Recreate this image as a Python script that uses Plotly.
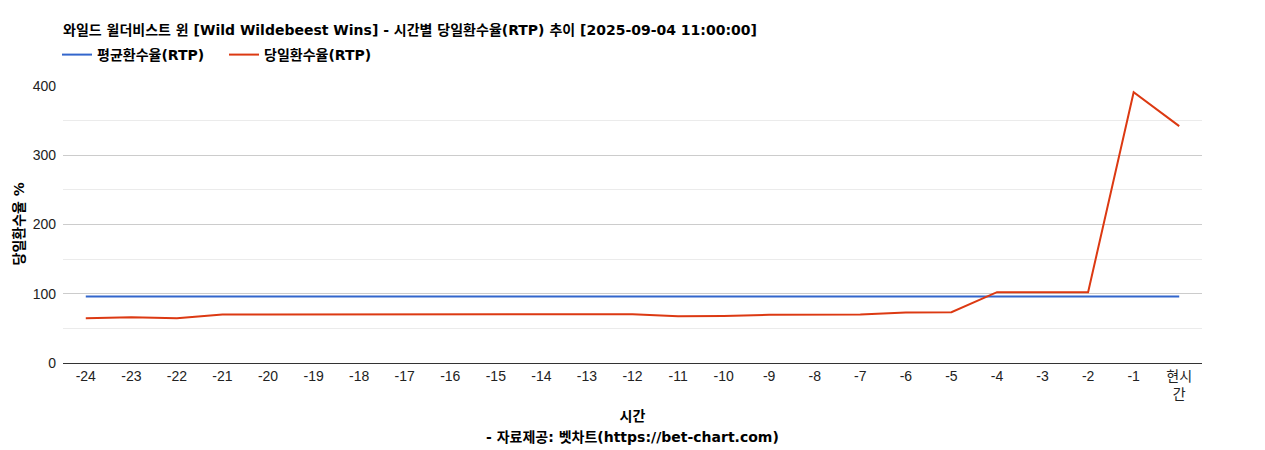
import plotly.graph_objects as go

categories = [str(i) for i in range(-24, 0)] + ["현시<br>간"]
avg_rtp = [96.2] * 25
daily_rtp = [64.7, 66.0, 64.7, 69.9, 69.9, 69.9, 69.9, 69.9, 69.9, 69.9, 70.0, 70.6, 70.4,
             67.6, 68.0, 69.5, 69.7, 70.0, 72.8, 73.3, 102.3, 102.3, 102.3, 391.0, 342.0]
y_ticks = [0, 100, 200, 300, 400]

FONT = "Arial, 'Liberation Sans', 'Noto Sans CJK KR', sans-serif"
BFONT = "'DejaVu Sans', 'Noto Sans CJK KR', sans-serif"

W, H = 1265, 450
L, R, T, B = 55, 71, 78, 95
PW, PH = W - L - R, H - T - B

fig = go.Figure()
fig.add_trace(go.Scatter(x=categories, y=avg_rtp, mode="lines", name="<b>평균환수율(RTP)</b>",
                         line=dict(color="#3366cc", width=2)))
fig.add_trace(go.Scatter(x=categories, y=daily_rtp, mode="lines", name="<b>당일환수율(RTP)</b>",
                         line=dict(color="#dc3912", width=2)))

fig.update_layout(
    width=W, height=H,
    margin=dict(l=L, r=R, t=T, b=B, autoexpand=False),
    paper_bgcolor="white", plot_bgcolor="white",
    font=dict(family=FONT, size=14, color="#222222"),
    title=dict(text="<b>와일드 윌더비스트 윈 [Wild Wildebeest Wins] - 시간별 당일환수율(RTP) 추이 [2025-09-04 11:00:00]</b>",
               x=L / W, xanchor="left", xref="container", yref="container",
               y=1 - 22 / H, yanchor="middle", pad=dict(t=0, b=0, l=0, r=0),
               font=dict(size=14, color="#000000", family=BFONT)),
    showlegend=True,
    legend=dict(orientation="h", x=-6 / PW, xanchor="left", y=(H - B - 47) / PH, yanchor="middle",
                font=dict(size=14, color="#000000", family=BFONT), bgcolor="rgba(0,0,0,0)",
                itemwidth=30, traceorder="normal", entrywidth=122, entrywidthmode="pixels"),
    hovermode=False,
    annotations=[
        dict(text="<b>- 자료제공: 벳차트(https://bet-chart.com)</b>", xref="paper", yref="paper",
             x=0.5, xanchor="center", y=-74 / PH, yanchor="middle", showarrow=False,
             font=dict(size=14, color="#000000", family=BFONT)),
        dict(text="<b>당일환수율 %</b>", xref="paper", yref="paper", textangle=-90,
             x=-45 / PW, xanchor="center", y=0.5, yanchor="middle", showarrow=False,
             font=dict(size=14, color="#000000", family=BFONT)),
    ],
)
fig.update_xaxes(
    type="category", range=[-0.5, 24.5], showgrid=False, showline=True, linecolor="#333333",
    linewidth=1, ticks="", tickfont=dict(size=14, color="#222222"), automargin=False,
    title=dict(text="<b>시간</b>", font=dict(size=14, color="#000000", family=BFONT), standoff=10),
)
fig.update_yaxes(
    range=[0, 400], tickvals=y_ticks, showgrid=True, gridcolor="#cccccc", gridwidth=1,
    minor=dict(dtick=50, showgrid=True, gridcolor="#ebebeb", gridwidth=1),
    zeroline=False, showline=False, ticks="", tickfont=dict(size=14, color="#222222"),
    automargin=False, ticklabelstandoff=6,
)

fig.write_html("out.html")
